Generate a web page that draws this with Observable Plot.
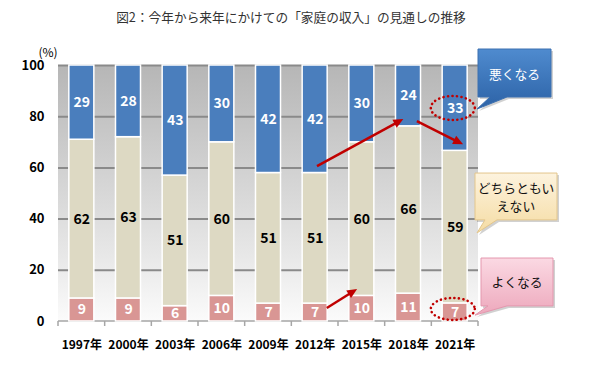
<!DOCTYPE html>
<html>
<head>
<meta charset="utf-8">
<script src="https://cdn.jsdelivr.net/npm/d3@7"></script>
<script src="https://cdn.jsdelivr.net/npm/@observablehq/plot@0.6"></script>
<style>
  body { margin: 0; background: #fff; width: 590px; height: 366px; overflow: hidden; }
  #title { height: 36px; line-height: 34px; text-align: center; font-family: "Noto Sans CJK JP", sans-serif; font-size: 12.7px; color: #333; padding-right: 8px; }
</style>
</head>
<body>
<div id="title">図2：今年から来年にかけての「家庭の収入」の見通しの推移</div>
<div id="chart"></div>
<script>
const years = ["1997年","2000年","2003年","2006年","2009年","2012年","2015年","2018年","2021年"];
const seriesNames = ["よくなる","どちらともいえない","悪くなる"];
const better  = [9, 9, 6, 10, 7, 7, 10, 11, 7];
const neutral = [62, 63, 51, 60, 51, 51, 60, 66, 59];
const worse   = [29, 28, 43, 30, 42, 42, 30, 24, 33];
const yTicks = [0, 20, 40, 60, 80, 100];
const unitLabel = "(%)";
const colors = ["#d99694", "#ddd9c3", "#4a7ebd"];

const data = years.flatMap((year, i) => [
  {year, series: seriesNames[0], value: better[i]},
  {year, series: seriesNames[1], value: neutral[i]},
  {year, series: seriesNames[2], value: worse[i]}
]);

const PAD_IN = 0.464;

function background(index, scales, values, dims) {
  const y = scales.y;
  const g = d3.create("svg:g");
  const grad = g.append("defs").append("linearGradient")
    .attr("id", "bgGrad").attr("x1", 0).attr("x2", 0).attr("y1", 0).attr("y2", 1);
  grad.append("stop").attr("offset", "0%").attr("stop-color", "#b6b6b6");
  grad.append("stop").attr("offset", "75%").attr("stop-color", "#e8e8e8");
  grad.append("stop").attr("offset", "100%").attr("stop-color", "#fbfbfb");
  g.append("rect")
    .attr("x", dims.marginLeft).attr("y", y(1))
    .attr("width", dims.width - dims.marginLeft - dims.marginRight)
    .attr("height", y(0) - y(1))
    .attr("fill", "url(#bgGrad)");
  return g.node();
}

function baseAxis(index, scales, values, dims) {
  const x = scales.x, y = scales.y;
  const bw = typeof x.bandwidth === "function" ? x.bandwidth() : x.bandwidth;
  const step = bw / (1 - PAD_IN);
  const g = d3.create("svg:g").attr("stroke", "#a6a6a6").attr("stroke-width", 1.5);
  const y0 = y(0);
  g.append("line").attr("x1", dims.marginLeft).attr("x2", dims.width - dims.marginRight)
    .attr("y1", y0).attr("y2", y0);
  const bounds = years.map(c => x(c) + bw / 2 - step / 2);
  bounds.push(x(years[years.length - 1]) + bw / 2 + step / 2);
  for (const b of bounds) {
    g.append("line").attr("x1", b).attr("x2", b).attr("y1", y0).attr("y2", y0 + 5);
  }
  return g.node();
}

// annotation anchors: [category, offset in band steps, value (0-1)]
const arrows = [
  [["2012年", 0.05, 0.605], ["2018年", -0.10, 0.789]],
  [["2018年", 0.19, 0.781], ["2021年", 0.18, 0.690]],
  [["2012年", 0.26, 0.051], ["2015年", -0.09, 0.125]]
];
const ellipses = [["2021年", -0.04, 0.832, 22, 12], ["2021年", -0.04, 0.047, 22, 11]];

function annotations(index, scales, values, dims) {
  const x = scales.x, y = scales.y;
  const bw = typeof x.bandwidth === "function" ? x.bandwidth() : x.bandwidth;
  const step = bw / (1 - PAD_IN);
  const px = (c, f) => x(c) + bw / 2 + f * step;
  const g = d3.create("svg:g");
  const red = "#c00000";
  for (const [[c1, f1, v1], [c2, f2, v2]] of arrows) {
    const x1 = px(c1, f1), y1 = y(v1), x2 = px(c2, f2), y2 = y(v2);
    const dx = x2 - x1, dy = y2 - y1, L = Math.hypot(dx, dy);
    const ux = dx / L, uy = dy / L;
    const head = 10, half = 4.5;
    const bx = x2 - ux * head, by = y2 - uy * head;
    g.append("line").attr("x1", x1).attr("y1", y1).attr("x2", bx + ux).attr("y2", by + uy)
      .attr("stroke", red).attr("stroke-width", 2.5);
    g.append("path")
      .attr("d", `M${x2},${y2}L${bx - uy * half},${by + ux * half}L${bx + uy * half},${by - ux * half}Z`)
      .attr("fill", red);
  }
  for (const [c, f, v, rx, ry] of ellipses) {
    g.append("ellipse").attr("cx", px(c, f)).attr("cy", y(v)).attr("rx", rx).attr("ry", ry)
      .attr("fill", "none").attr("stroke", red).attr("stroke-width", 2.6)
      .attr("stroke-linecap", "round").attr("stroke-dasharray", "0.1 4.4");
  }
  const right = dims.width - dims.marginRight;
  const defs = g.append("defs");
  const mk = (id, c1, c2) => {
    const lg = defs.append("linearGradient").attr("id", id).attr("x1", 0).attr("x2", 0).attr("y1", 0).attr("y2", 1);
    lg.append("stop").attr("offset", "0%").attr("stop-color", c1);
    lg.append("stop").attr("offset", "100%").attr("stop-color", c2);
  };
  mk("gBlue", "#4f8bcf", "#2c62a6");
  mk("gBeige", "#fdf3de", "#f5dca4");
  mk("gPink", "#fbd9e3", "#eda8bc");
  const boxes = [
    {x0: right + 0, x1: right + 73, v0: 1.0625, v1: 0.875, ta: right + 12, tb: right + 29, tx: right - 1, tv: 0.828,
     fill: "url(#gBlue)", stroke: "#3c70b0", color: "#fff", lines: ["悪くなる"]},
    {x0: right - 3, x1: right + 79, v0: 0.578, v1: 0.395, ta: right + 7, tb: right + 19, tx: right - 1, tv: 0.344,
     fill: "url(#gBeige)", stroke: "#e3c68c", color: "#111", lines: ["どちらともい", "えない"]},
    {x0: right + 3, x1: right + 75, v0: 0.246, v1: 0.059, ta: right + 10, tb: right + 29, tx: right - 3, tv: 0.023,
     fill: "url(#gPink)", stroke: "#e497ae", color: "#111", lines: ["よくなる"]}
  ];
  for (const b of boxes) {
    const Y0 = y(b.v0), Y1 = y(b.v1), TY = y(b.tv);
    const d = `M${b.x0},${Y0}H${b.x1}V${Y1}H${b.tb}L${b.tx},${TY}L${b.ta},${Y1}H${b.x0}Z`;
    g.append("path").attr("d", d).attr("transform", "translate(2,2)").attr("fill", "rgba(0,0,0,0.18)");
    g.append("path").attr("d", d).attr("fill", b.fill).attr("stroke", b.stroke).attr("stroke-width", 1);
    const cx = (b.x0 + b.x1) / 2, cy = (Y0 + Y1) / 2;
    const lh = 17.5;
    b.lines.forEach((t, i) => {
      g.append("text").attr("x", cx).attr("y", cy + (i - (b.lines.length - 1) / 2) * lh)
        .attr("text-anchor", "middle").attr("dominant-baseline", "central")
        .attr("font-size", 12.8).attr("fill", b.color)
        .attr("font-family", "'Noto Sans CJK JP', sans-serif")
        .text(t);
    });
  }
  return g.node();
}

const plot = Plot.plot({
  width: 590,
  height: 330,
  marginTop: 29,
  marginBottom: 45,
  marginLeft: 58,
  marginRight: 112,
  style: {fontFamily: "'Noto Sans CJK JP', sans-serif", background: "transparent", color: "#000"},
  x: {domain: years, paddingInner: PAD_IN, paddingOuter: PAD_IN / 2, round: false, label: null},
  y: {domain: [0, 1], label: null},
  color: {domain: seriesNames, range: colors},
  marks: [
    background,
    Plot.ruleY(yTicks.filter(t => t > 0).map(t => t / 100), {stroke: "#8a8a8a", strokeWidth: 2}),
    baseAxis,
    Plot.barY(data, Plot.stackY({x: "year", y: "value", fill: "series", offset: "normalize", stroke: "white", strokeWidth: 1.5})),
    Plot.text(data, Plot.stackY({x: "year", y: "value", offset: "normalize",
      text: d => d.series === seriesNames[1] ? "" : String(d.value),
      fill: "white", fontWeight: "bold", fontSize: 14})),
    Plot.text(data, Plot.stackY({x: "year", y: "value", offset: "normalize",
      text: d => d.series === seriesNames[1] ? String(d.value) : "",
      fill: "black", fontWeight: "bold", fontSize: 14})),
    Plot.axisY({ticks: yTicks.map(t => t / 100), tickFormat: d => String(Math.round(d * 100)),
      tickSize: 0, tickPadding: 14, fontSize: 13, fontWeight: "bold", label: null, fill: "#000"}),
    Plot.axisX({tickSize: 0, tickPadding: 19, fontSize: 12, fontWeight: "bold", label: null, fill: "#000"}),
    Plot.text([unitLabel], {frameAnchor: "top-left", text: d => d, dx: -20, dy: -17, textAnchor: "start", fontSize: 12}),
    annotations
  ]
});
document.getElementById("chart").appendChild(plot);
</script>
</body>
</html>
